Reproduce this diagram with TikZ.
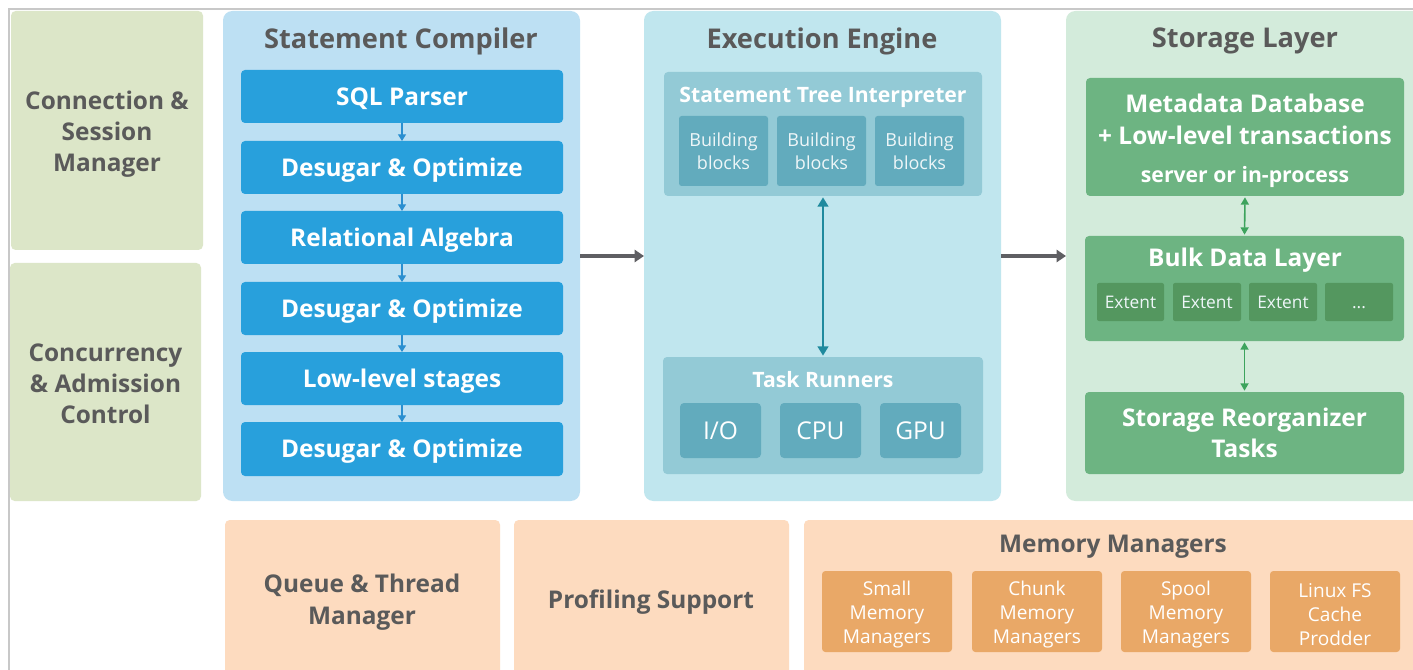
\documentclass[tikz,border=0pt]{standalone}
\usepackage{fontspec}
\setmainfont{Open Sans}
\newfontfamily\ltf{Open Sans}
\usetikzlibrary{arrows.meta}
\definecolor{framec}{HTML}{C8C8C8}
\definecolor{leftg}{HTML}{DCE6C8}
\definecolor{compbg}{HTML}{BDE0F3}
\definecolor{bluebox}{HTML}{28A0DC}
\definecolor{bluearr}{HTML}{2A8FD0}
\definecolor{engbg}{HTML}{C0E6EE}
\definecolor{tealin}{HTML}{93CAD6}
\definecolor{tealbb}{HTML}{62ABBD}
\definecolor{tealarr}{HTML}{1F8A9E}
\definecolor{storbg}{HTML}{D3EBDB}
\definecolor{greenbox}{HTML}{6DB482}
\definecolor{extentc}{HTML}{54975F}
\definecolor{greenarr}{HTML}{3DA35D}
\definecolor{peach}{HTML}{FDDBBF}
\definecolor{orangebox}{HTML}{E9A867}
\definecolor{grayarr}{HTML}{5F5F63}
\definecolor{txtgray}{HTML}{5A5A5A}
\definecolor{softwhite}{HTML}{EEF6F8}
% box from pixel corners: \mkbox[style]{x1}{y1}{x2}{y2}{name}{text};
\newcommand\mkbox[6][]{\node[#1, minimum width={(#4-#2)*0.75pt}, minimum height={(#5-#3)*0.75pt}] (#6) at ({(#2+#4)/2},{(#3+#5)/2})}
\tikzset{
  panel/.style={fill=leftg, rounded corners=3.5pt, inner sep=0pt, outer sep=0pt},
  paneltext/.style={inner sep=0pt, align=center, text=txtgray, font=\bfseries\fontsize{18.3}{23.25}\selectfont},
  cont/.style={rounded corners=7pt, inner sep=0pt, outer sep=0pt},
  ttl/.style={inner sep=0pt, text=txtgray, font=\bfseries\fontsize{20.4}{24}\selectfont},
  bluestep/.style={fill=bluebox, rounded corners=3pt, inner sep=0pt, outer sep=0pt,
    text=white, text height=13.2pt, text depth=0pt, font=\bfseries\fontsize{18.3}{22}\selectfont},
  inbox/.style={rounded corners=3pt, inner sep=0pt, outer sep=0pt},
  bblock/.style={fill=tealbb, rounded corners=2pt, inner sep=0pt, outer sep=0pt,
    text=softwhite, align=center, font=\ltf\fontsize{13.5}{17.25}\selectfont},
  runner/.style={fill=tealbb, rounded corners=3pt, inner sep=0pt, outer sep=0pt,
    text=white, font=\fontsize{18.4}{22}\selectfont},
  intitle/.style={inner sep=0pt, text=white, font=\bfseries\fontsize{15.9}{19}\selectfont},
  gbox/.style={fill=greenbox, rounded corners=3pt, inner sep=0pt, outer sep=0pt,
    text=white, align=center, font=\bfseries\fontsize{18.3}{23.25}\selectfont},
  gtext/.style={inner sep=0pt, text=white, align=center, font=\bfseries\fontsize{18.3}{24}\selectfont},
  extbox/.style={fill=extentc, rounded corners=1.5pt, inner sep=0pt, outer sep=0pt,
    text=softwhite, text height=9.4pt, text depth=0pt, font=\ltf\fontsize{13}{15}\selectfont},
  pbox/.style={fill=peach, rounded corners=3.5pt, inner sep=0pt, outer sep=0pt},
  ptext/.style={inner sep=0pt, text=txtgray, align=center, font=\bfseries\fontsize{18.3}{24}\selectfont},
  obox/.style={fill=orangebox, rounded corners=2.5pt, inner sep=0pt, outer sep=0pt},
  otext/.style={inner sep=0pt, text=white, align=center, font=\fontsize{14.3}{18}\selectfont},
  smallarr/.style={draw=bluearr, line width=0.9pt, -{Triangle[length=5pt,width=6pt]}},
  bigarr/.style={draw=grayarr, line width=3.2pt, -{Triangle[length=7pt,width=9pt]}},
  tarr/.style={draw=tealarr, line width=2.2pt, {Triangle[length=7pt,width=8pt]}-{Triangle[length=7pt,width=8pt]}},
  garr/.style={draw=greenarr, line width=1.2pt, {Triangle[length=5.5pt,width=6pt]}-{Triangle[length=5.5pt,width=6pt]}},
}
\begin{document}
\begin{tikzpicture}[x=0.75pt,y=-0.75pt]
\useasboundingbox (0,0) rectangle (1413,670);
\clip (0,0) rectangle (1413,670);
\fill[white] (0,0) rectangle (1413,670);
\draw[framec, line width=1.2pt] (9,680) -- (9,9) -- (1420,9);

% left panels
\mkbox[panel]{11}{11}{203}{250}{conn} {};
\node[paneltext] (connT) at (107,134.5) {Connection \&\\Session\\Manager};
\mkbox[panel]{10}{263}{201}{501}{conc} {};
\node[paneltext] (concT) at (105.5,384) {Concurrency\\\& Admission\\Control};

% statement compiler
\mkbox[cont, fill=compbg]{223}{11}{580}{501}{comp} {};
\node[ttl] (compT) at (401,41) {Statement Compiler};
\mkbox[bluestep]{241}{70}{563}{123}{b1} {SQL Parser};
\mkbox[bluestep]{241}{141}{563}{194}{b2} {Desugar \& Optimize};
\mkbox[bluestep]{241}{211}{563}{264}{b3} {Relational Algebra};
\mkbox[bluestep]{241}{282}{563}{335}{b4} {Desugar \& Optimize};
\mkbox[bluestep]{241}{352}{563}{405}{b5} {Low-level stages};
\mkbox[bluestep]{241}{422}{563}{476}{b6} {Desugar \& Optimize};
\draw[smallarr] (b1.south) -- (b2.north);
\draw[smallarr] (b2.south) -- (b3.north);
\draw[smallarr] (b3.south) -- (b4.north);
\draw[smallarr] (b4.south) -- (b5.north);
\draw[smallarr] (b5.south) -- (b6.north);

% execution engine
\mkbox[cont, fill=engbg]{644}{11}{1001}{501}{eng} {};
\node[ttl] (engT) at (822,41) {Execution Engine};
\mkbox[inbox, fill=tealin]{664}{72}{982}{196}{sti} {};
\node[intitle] (stiT) at (823,97) {Statement Tree Interpreter};
\mkbox[bblock]{679}{116}{768}{186}{bb1} {Building\\blocks};
\mkbox[bblock]{777}{116}{866}{186}{bb2} {Building\\blocks};
\mkbox[bblock]{875}{116}{964}{186}{bb3} {Building\\blocks};
\mkbox[inbox, fill=tealin]{663}{357}{983}{474}{tr} {};
\node[intitle] (trT) at (823,380) {Task Runners};
\mkbox[runner]{680}{403}{761}{458}{io} {I/O};
\mkbox[runner]{780}{403}{861}{458}{cpu} {CPU};
\mkbox[runner]{880}{403}{961}{458}{gpu} {GPU};
\draw[tarr, shorten <=1pt, shorten >=1pt] (sti.south) -- (tr.north);

% storage layer
\mkbox[cont, fill=storbg]{1066}{11}{1450}{501}{stor} {};
\node[ttl] (storT) at (1245,41) {Storage Layer};
\mkbox[inbox, fill=greenbox]{1086}{78}{1404}{196}{meta} {};
\node[gtext] (metaT) at (1245,119) {Metadata Database\\+ Low-level transactions};
\node[inbox, text=white, inner sep=0pt, font=\bfseries\fontsize{15.9}{19}\selectfont] (metaS) at (1245,177) {server or in-process};
\mkbox[inbox, fill=greenbox]{1085}{236}{1404}{341}{bulk} {};
\node[gtext] (bulkT) at (1245,260) {Bulk Data Layer};
\mkbox[extbox]{1097}{283}{1164}{321}{e1} {Extent};
\mkbox[extbox]{1173}{283}{1241}{321}{e2} {Extent};
\mkbox[extbox]{1249}{283}{1317}{321}{e3} {Extent};
\mkbox[extbox]{1325}{283}{1393}{321}{e4} {...};
\mkbox[gbox]{1085}{392}{1404}{474}{reorg} {Storage Reorganizer\\Tasks};
\draw[garr, shorten <=1pt, shorten >=1pt] (meta.south) -- (bulk.north);
\draw[garr, shorten <=1pt, shorten >=1pt] (bulk.south) -- (reorg.north);

% main arrows
\draw[bigarr] (comp.east) -- (eng.west);
\draw[bigarr] (eng.east) -- (stor.west);

% bottom row
\mkbox[pbox]{225}{520}{500}{700}{queue} {};
\node[ptext] (queueT) at (362,602) {Queue \& Thread\\Manager};
\mkbox[pbox]{514}{520}{789}{700}{prof} {};
\node[ptext] (profT) at (651,602) {Profiling Support};
\mkbox[pbox]{804}{520}{1450}{700}{mem} {};
\node[ptext] (memT) at (1113,547) {Memory Managers};
\mkbox[obox]{822}{571}{952}{652}{m1} {};
\mkbox[obox]{972}{571}{1102}{652}{m2} {};
\mkbox[obox]{1121}{571}{1251}{652}{m3} {};
\mkbox[obox]{1270}{571}{1400}{652}{m4} {};
\node[otext] (m1T) at (887,614.5) {Small\\Memory\\Managers};
\node[otext] (m2T) at (1037,614.5) {Chunk\\Memory\\Managers};
\node[otext] (m3T) at (1186,614.5) {Spool\\Memory\\Managers};
\node[otext] (m4T) at (1335,614.5) {Linux FS\\Cache\\Prodder};
\end{tikzpicture}
\end{document}
